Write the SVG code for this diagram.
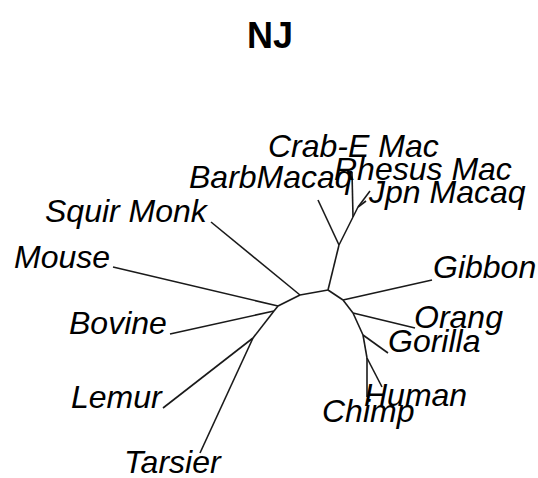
<svg xmlns="http://www.w3.org/2000/svg" width="538" height="478" viewBox="0 0 538 478">
  <style>
    .title { font-family: "Liberation Sans", Arial, sans-serif; font-weight: bold; font-size: 36px; fill: #000; }
    .tip { font-family: "Liberation Sans", Arial, sans-serif; font-style: italic; font-size: 32px; fill: #000; }
    .edge { stroke: #1a1a1a; stroke-width: 1.6; fill: none; stroke-linecap: butt; }
  </style>
  <rect width="538" height="478" fill="#fff"/>
  <text class="title" x="270" y="48" text-anchor="middle">NJ</text>

  <!-- unrooted NJ tree: branches -->
  <g id="edges">
    <line class="edge" x1="328" y1="290" x2="339" y2="245"/>
    <line class="edge" x1="339" y1="245" x2="318" y2="200"/>
    <line class="edge" x1="339" y1="245" x2="353" y2="217"/>
    <line class="edge" x1="353" y1="217" x2="352" y2="172"/>
    <line class="edge" x1="353" y1="217" x2="358" y2="207"/>
    <line class="edge" x1="358" y1="207" x2="370" y2="191"/>
    <line class="edge" x1="358" y1="207" x2="366" y2="201"/>
    <line class="edge" x1="328" y1="290" x2="300" y2="295"/>
    <line class="edge" x1="300" y1="295" x2="211" y2="222"/>
    <line class="edge" x1="300" y1="295" x2="278" y2="306"/>
    <line class="edge" x1="278" y1="306" x2="113" y2="267"/>
    <line class="edge" x1="278" y1="306" x2="274" y2="311"/>
    <line class="edge" x1="274" y1="311" x2="170" y2="334"/>
    <line class="edge" x1="274" y1="311" x2="253" y2="338"/>
    <line class="edge" x1="253" y1="338" x2="163" y2="408"/>
    <line class="edge" x1="253" y1="338" x2="200" y2="453"/>
    <line class="edge" x1="328" y1="290" x2="343" y2="300"/>
    <line class="edge" x1="343" y1="300" x2="432" y2="280"/>
    <line class="edge" x1="343" y1="300" x2="353" y2="313"/>
    <line class="edge" x1="353" y1="313" x2="415" y2="328"/>
    <line class="edge" x1="353" y1="313" x2="363" y2="335"/>
    <line class="edge" x1="363" y1="335" x2="388" y2="353"/>
    <line class="edge" x1="363" y1="335" x2="367" y2="358"/>
    <line class="edge" x1="367" y1="358" x2="367" y2="397"/>
    <line class="edge" x1="367" y1="358" x2="382" y2="387"/>
  </g>

  <!-- tip labels -->
  <g id="crab-e-mac"><text class="tip" x="268" y="157">Crab-E Mac</text></g>
  <g id="rhesus-mac"><text class="tip" x="334" y="180">Rhesus Mac</text></g>
  <g id="jpn-macaq"><text class="tip" x="369" y="203">Jpn Macaq</text></g>
  <g id="barbmacaq"><text class="tip" x="189" y="188">BarbMacaq</text></g>
  <g id="squir-monk"><text class="tip" x="45" y="222">Squir Monk</text></g>
  <g id="mouse"><text class="tip" x="14" y="268">Mouse</text></g>
  <g id="bovine"><text class="tip" x="69" y="334">Bovine</text></g>
  <g id="lemur"><text class="tip" x="71" y="408">Lemur</text></g>
  <g id="tarsier"><text class="tip" x="124" y="473">Tarsier</text></g>
  <g id="gibbon"><text class="tip" x="433" y="278">Gibbon</text></g>
  <g id="orang"><text class="tip" x="414" y="328">Orang</text></g>
  <g id="gorilla"><text class="tip" x="388" y="352">Gorilla</text></g>
  <g id="human"><text class="tip" x="364" y="406">Human</text></g>
  <g id="chimp"><text class="tip" x="322" y="422">Chimp</text></g>
</svg>
